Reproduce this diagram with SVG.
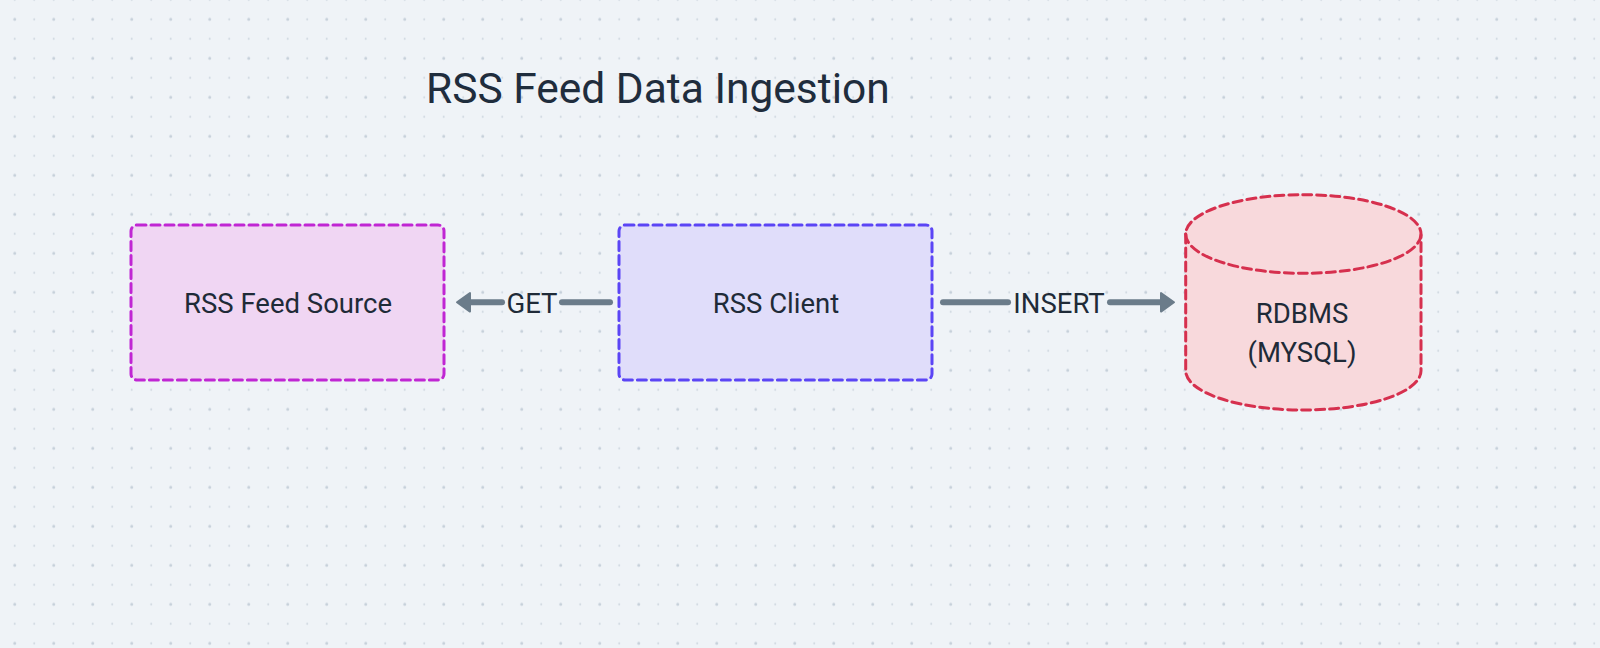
<svg xmlns="http://www.w3.org/2000/svg" width="1600" height="648" viewBox="0 0 1600 648">
  <defs>
    <pattern id="dots" patternUnits="userSpaceOnUse" x="4.95" y="9.55" width="39" height="39">
      <circle cx="9.75" cy="9.75" r="1.5" fill="#c6d0da"/>
      <circle cx="29.25" cy="9.75" r="1" fill="#ccd5de"/>
      <circle cx="9.75" cy="29.25" r="1" fill="#ccd5de"/>
      <circle cx="29.25" cy="29.25" r="1" fill="#ccd5de"/>
    </pattern>
    <style>
      .lbl { font-family: Roboto, "Liberation Sans", Arial, sans-serif; font-weight: 400; font-size: 27.5px; fill: #1f2b38; text-anchor: middle; }
      .title { font-family: Roboto, "Liberation Sans", Arial, sans-serif; font-weight: 400; font-size: 42.5px; fill: #1f2d3d; }
      .node { stroke-width: 3; stroke-dasharray: 9 5; stroke-linecap: round; }
      .edge { stroke: #6b7c8a; stroke-width: 6; stroke-linecap: round; fill: none; }
      .head { fill: #6b7c8a; stroke: #6b7c8a; stroke-width: 2; stroke-linejoin: round; }
    </style>
  </defs>
  <rect width="1600" height="648" fill="#eff3f7"/>
  <rect width="1600" height="648" fill="url(#dots)"/>

  <text class="title" x="426" y="103">RSS Feed Data Ingestion</text>

  <g id="rss-feed-source">
    <rect class="node" x="131" y="225" width="313" height="155" rx="6" fill="#f0d6f3" stroke="#c026d3"/>
    <text class="lbl" x="288" y="312.5">RSS Feed Source</text>
  </g>

  <g id="rss-client">
    <rect class="node" x="619" y="225" width="313" height="155" rx="6" fill="#e0ddfa" stroke="#5b45f5"/>
    <text class="lbl" x="776" y="312.5">RSS Client</text>
  </g>

  <g id="rdbms">
    <path class="node" d="M1185.7 234 L1185.7 370.7 A117.6 39.3 0 0 0 1421 370.7 L1421 234 A117.6 39.3 0 0 0 1185.7 234 Z" fill="#f8d9dc" stroke="#d6304e"/>
    <path class="node" d="M1185.7 234 A117.6 39.3 0 0 0 1421 234" fill="none" stroke="#d6304e"/>
    <text class="lbl" x="1302" y="322.5">RDBMS</text>
    <text class="lbl" x="1302" y="361.5">(MYSQL)</text>
  </g>

  <g id="connectors">
    <g id="edge-get">
      <line class="edge" x1="610" y1="302.3" x2="562" y2="302.3"/>
      <line class="edge" x1="502" y1="302.3" x2="468" y2="302.3"/>
      <polygon class="head" points="457,302.3 470,293 470,311.6"/>
      <text class="lbl" x="532" y="312.5">GET</text>
    </g>
    <g id="edge-insert">
      <line class="edge" x1="943" y1="302.3" x2="1008" y2="302.3"/>
      <line class="edge" x1="1110" y1="302.3" x2="1164" y2="302.3"/>
      <polygon class="head" points="1174,302.3 1161,293 1161,311.6"/>
      <text class="lbl" x="1059" y="312.5">INSERT</text>
    </g>
  </g>
</svg>
